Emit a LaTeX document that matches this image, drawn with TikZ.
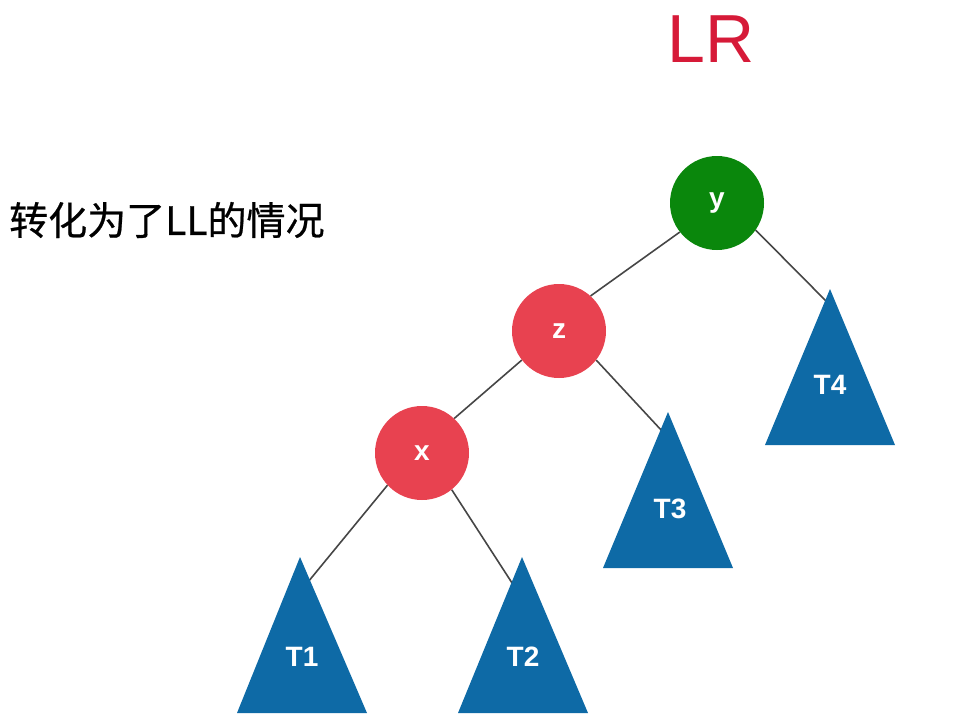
\documentclass[tikz,border=0pt]{standalone}
\usepackage{fontspec}
\setmainfont{Liberation Sans}
\newfontfamily\cjk[FakeBold=0.6]{Noto Sans CJK SC}
\usetikzlibrary{backgrounds}
\definecolor{nred}{RGB}{232,66,80}
\definecolor{ngreen}{RGB}{10,135,12}
\definecolor{tblue}{RGB}{14,106,166}
\definecolor{lrred}{RGB}{214,26,56}
\definecolor{egray}{RGB}{70,70,70}
\tikzset{
  circ/.style={circle, minimum size=94pt, inner sep=0pt, text=white,
    font=\fontsize{28}{28}\selectfont\bfseries},
  tlabel/.style={text=white, inner sep=0pt, font=\fontsize{28}{28}\selectfont\bfseries},
  tri/.style={fill=tblue},
  edge/.style={draw=egray, line width=1.6pt}
}
\begin{document}
\begin{tikzpicture}[x=1pt,y=-1pt]
\useasboundingbox (0,0) rectangle (968,723);
% title texts
\node[anchor=base, text=lrred, inner sep=0pt, font=\fontsize{68}{68}\selectfont] (title) at (711,62) {LR};
\node[anchor=west, inner sep=0pt, font=\cjk\fontsize{39}{39}\selectfont] (note) at (9,220) {转化为了LL的情况};
% tree nodes
\node[circ, fill=ngreen] (y) at (717,203) {y};
\node[circ, fill=nred] (z) at (559,331) {z};
\node[circ, fill=nred] (x) at (422,453) {x};
% subtrees
\fill[tri] (300,557) -- (367,713) -- (237,713) -- cycle;
\node[tlabel] (T1) at (302,657) {T1};
\fill[tri] (522,557) -- (588,713) -- (458,713) -- cycle;
\node[tlabel] (T2) at (523,657) {T2};
\fill[tri] (668,412) -- (733,568) -- (603,568) -- cycle;
\node[tlabel] (T3) at (670,509) {T3};
\fill[tri] (830,289) -- (895,445) -- (765,445) -- cycle;
\node[tlabel] (T4) at (830,385) {T4};
% connector ends inside the triangles' tips
\coordinate (e1) at (308,582);
\coordinate (e2) at (514,586);
\coordinate (e3) at (662,431);
\coordinate (e4) at (827,302);
\begin{scope}[on background layer]
\draw[edge] (y.218) -- (z.48);
\draw[edge] (y.-35) -- (e4);
\draw[edge] (z.218) -- (x.47);
\draw[edge] (z.-38) -- (e3);
\draw[edge] (x.223) -- (e1);
\draw[edge] (x.-51) -- (e2);
\end{scope}
\end{tikzpicture}
\end{document}
